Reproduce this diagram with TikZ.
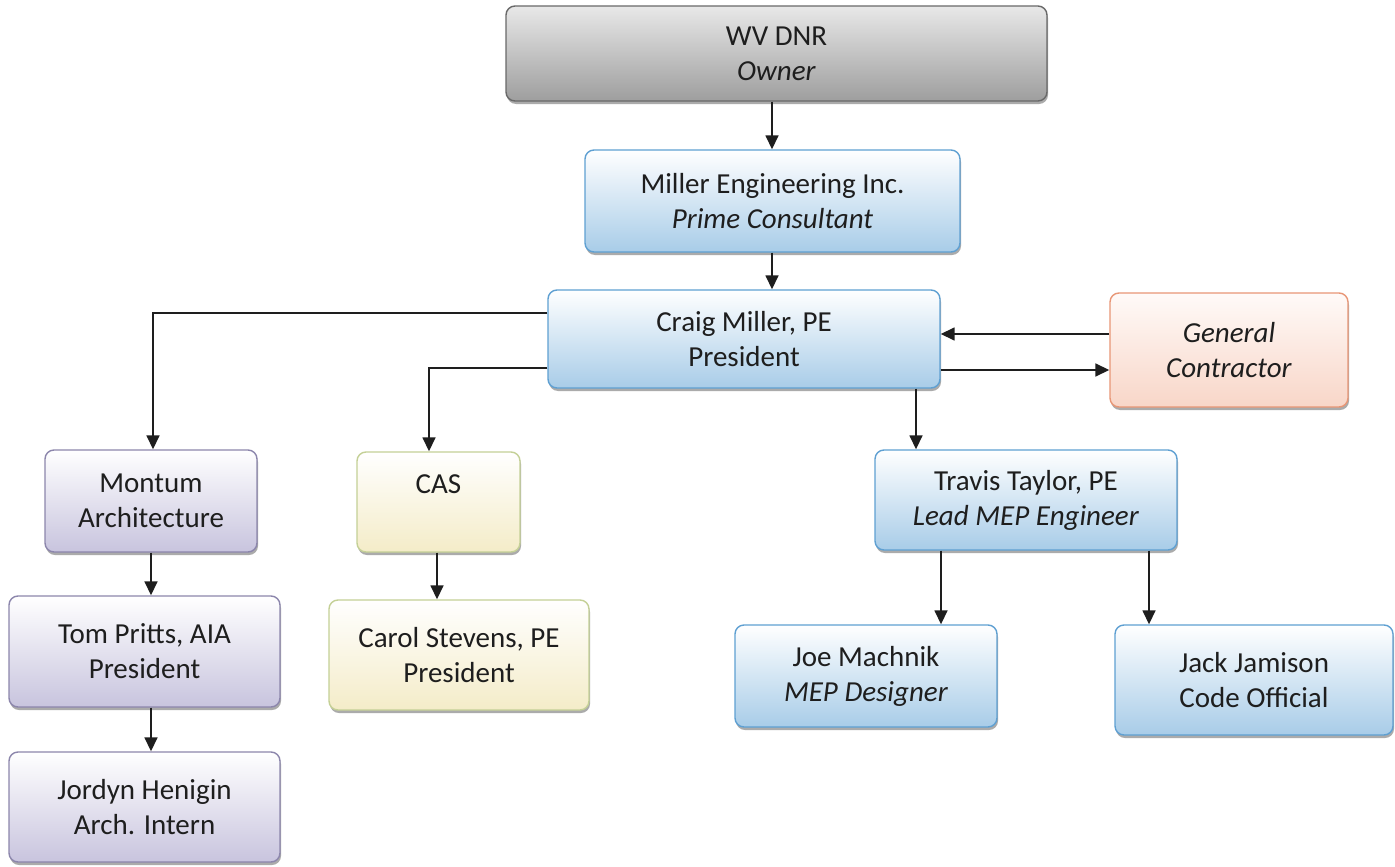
\documentclass[tikz,border=0pt]{standalone}
\usepackage{fontspec}
\setmainfont{Carlito}
\usetikzlibrary{arrows.meta,shadows,calc}
\definecolor{txt}{RGB}{30,30,30}
\definecolor{greyT}{RGB}{232,232,232}
\definecolor{greyB}{RGB}{158,158,158}
\definecolor{greyD}{RGB}{105,105,105}
\definecolor{blueB}{RGB}{168,204,232}
\definecolor{blueD}{RGB}{95,160,210}
\definecolor{purpB}{RGB}{200,196,222}
\definecolor{purpD}{RGB}{140,134,172}
\definecolor{yelB}{RGB}{244,236,200}
\definecolor{yelD}{RGB}{196,208,150}
\definecolor{oraT}{RGB}{255,250,248}
\definecolor{oraB}{RGB}{248,214,200}
\definecolor{oraD}{RGB}{232,150,118}
\begin{document}
\begin{tikzpicture}[x=1pt,y=-1pt,
  box/.style={rounded corners=9pt, line width=1.4pt, align=center, inner sep=0pt,
    font=\fontsize{29}{35}\selectfont, text=txt,
    drop shadow={shadow xshift=1pt, shadow yshift=-3pt, opacity=0.5, fill=black!65}},
  greybox/.style={box, draw=greyD, top color=greyT, bottom color=greyB},
  bluebox/.style={box, draw=blueD, top color=white, bottom color=blueB},
  purplebox/.style={box, draw=purpD, top color=white, bottom color=purpB},
  yellowbox/.style={box, draw=yelD, top color=white, bottom color=yelB},
  orangebox/.style={box, draw=oraD, top color=oraT, bottom color=oraB},
  arr/.style={line width=1.6pt, draw=txt, -{Triangle[length=14pt,width=13pt]}}
]
\useasboundingbox (0,0) rectangle (1395,867);
\fill[white] (0,0) rectangle (1395,867);

\node[greybox, minimum width=541pt, minimum height=95pt] (dnr) at (776.5,53.5) {WV DNR\\\textit{Owner}};
\node[bluebox, minimum width=375pt, minimum height=102pt] (mei) at (772.5,201) {Miller Engineering Inc.\\\textit{Prime Consultant}};
\node[bluebox, minimum width=392pt, minimum height=98pt] (craig) at (744,339) {Craig Miller, PE\\President};
\node[orangebox, minimum width=238pt, minimum height=114pt] (gc) at (1229,350) {\textit{General}\\\textit{Contractor}};
\node[purplebox, minimum width=212pt, minimum height=102pt] (montum) at (151,501) {Montum\\Architecture};
\node[yellowbox, minimum width=163pt, minimum height=100pt] (cas) at (438.5,502) {CAS\\~};
\node[bluebox, minimum width=302pt, minimum height=100pt] (travis) at (1026,500) {Travis Taylor, PE\\\textit{Lead MEP Engineer}};
\node[purplebox, minimum width=271pt, minimum height=111pt] (tom) at (144.5,651.5) {Tom Pritts, AIA\\President};
\node[yellowbox, minimum width=260pt, minimum height=110pt] (carol) at (459,655) {Carol Stevens, PE\\President};
\node[purplebox, minimum width=271pt, minimum height=110pt] (jordyn) at (144.5,807) {Jordyn Henigin\\Arch. Intern};
\node[bluebox, minimum width=262pt, minimum height=102pt] (joe) at (866,676) {Joe Machnik\\\textit{MEP Designer}};
\node[bluebox, minimum width=278pt, minimum height=110pt] (jack) at (1254,680) {Jack Jamison\\Code Official};

\draw[arr] (dnr.south -| 772,0) -- (mei.north -| 772,0);
\draw[arr] (mei.south -| 772,0) -- (craig.north -| 772,0);
\draw[arr] (craig.west |- 0,313) -| (montum.north -| 153,0);
\draw[arr] (craig.west |- 0,368) -| (cas.north -| 429,0);
\draw[arr] (craig.south -| 916,0) -- (travis.north -| 916,0);
\draw[arr] (gc.west |- 0,334) -- (craig.east |- 0,334);
\draw[arr] (craig.east |- 0,370) -- (gc.west |- 0,370);
\draw[arr] (montum.south -| 151,0) -- (tom.north -| 151,0);
\draw[arr] (tom.south -| 151,0) -- (jordyn.north -| 151,0);
\draw[arr] (cas.south -| 437,0) -- (carol.north -| 437,0);
\draw[arr] (travis.south -| 941,0) -- (joe.north -| 941,0);
\draw[arr] (travis.south -| 1149,0) -- (jack.north -| 1149,0);
\end{tikzpicture}
\end{document}
